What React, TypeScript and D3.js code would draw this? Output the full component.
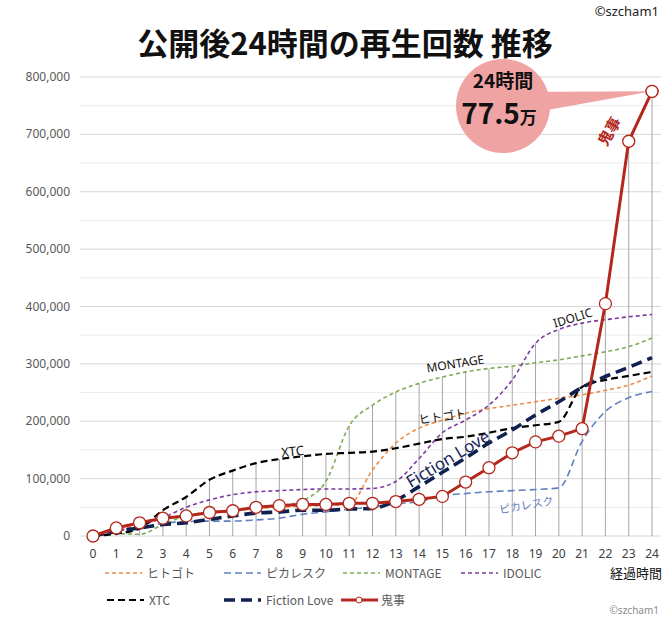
import * as d3 from 'd3';

const hours = d3.range(0, 25);
const yTicks = [0, 100000, 200000, 300000, 400000, 500000, 600000, 700000, 800000];

const hitogoto = [0, 10000, 20000, 30000, 36000, 42000, 45000, 48000, 50000, 52000, 53000, 55000, 115000, 162000, 188000, 202000, 214000, 222000, 228000, 234000, 240000, 246000, 254000, 263000, 279000];
const picaresque = [0, 5000, 12000, 22000, 25000, 26000, 26000, 28000, 31000, 38000, 42000, 47000, 50000, 56000, 60000, 70000, 74000, 77000, 79000, 81000, 84000, 165000, 217000, 241000, 252000];
const montage = [0, 4000, 3000, 20000, 35000, 40000, 44000, 48000, 52000, 62000, 95000, 192000, 228000, 251000, 266000, 277000, 286000, 292000, 296000, 302000, 307000, 314000, 321000, 330000, 345000];
const idolic = [0, 8000, 18000, 32000, 50000, 63000, 72000, 77000, 79000, 81000, 82000, 82000, 83000, 95000, 135000, 180000, 202000, 228000, 272000, 336000, 360000, 371000, 377000, 382000, 386000];
const xtc = [0, 4000, 13000, 45000, 68000, 98000, 114000, 127000, 134000, 139000, 143000, 145000, 147000, 153000, 161000, 169000, 173000, 180000, 188000, 193000, 199000, 260000, 272000, 279000, 286000];
const fictionLove = [0, 8000, 14000, 20000, 23000, 29000, 35000, 40000, 42000, 45000, 45000, 47000, 48000, 62000, 86000, 111000, 136000, 162000, 185000, 211000, 234000, 259000, 278000, 294000, 311000];
const kiji = [0, 14000, 23000, 31000, 35000, 41000, 44000, 50000, 53000, 55000, 55000, 57000, 57000, 60000, 64000, 69000, 94000, 119000, 145000, 164000, 174000, 187000, 405000, 688000, 775000];

const RED = '#b3271c';

// drawing order matters: dashed ones first, 鬼事 on top
const series = [
  { name: 'ヒトゴト', values: hitogoto, color: '#ed8a45', width: 1.6, dash: '4,3' },
  { name: 'ピカレスク', values: picaresque, color: '#5f80c0', width: 1.6, dash: '7,4' },
  { name: 'MONTAGE', values: montage, color: '#7fac55', width: 1.6, dash: '4,3' },
  { name: 'IDOLIC', values: idolic, color: '#7a3aa0', width: 1.6, dash: '4,3' },
  { name: 'XTC', values: xtc, color: '#000000', width: 2.2, dash: '7,4' },
  { name: 'Fiction Love', values: fictionLove, color: '#10204f', width: 3.6, dash: '11,6' },
];

const legendRow1 = [
  { i: 0, x: 105, y: 573 },
  { i: 1, x: 224, y: 573 },
  { i: 2, x: 343, y: 573 },
  { i: 3, x: 461, y: 573 },
];
const legendRow2 = [
  { i: 4, x: 107, y: 600 },
  { i: 5, x: 224, y: 600 },
];

export default function App() {
  const x = d3.scaleLinear().domain([0, 24]).range([93, 652]);
  const y = d3.scaleLinear().domain([0, 800000]).range([536, 77]);

  const smooth = d3.line<number>()
    .x((_, i) => x(hours[i]))
    .y(d => y(d))
    .curve(d3.curveMonotoneX);
  const straight = d3.line<number>()
    .x((_, i) => x(hours[i]))
    .y(d => y(d));

  const all = [...series.map(s => s.values), kiji];
  const maxAt = hours.map(h => d3.max(all, v => v[h]) || 0);
  const grid = d3.range(0, 800001, 50000);

  const tipX = x(24);
  const tipY = y(kiji[24]);
  const font = '"Noto Sans", "Noto Sans CJK JP", sans-serif';
  const cjk = '"Noto Sans CJK JP", "Noto Sans", sans-serif';

  return (
    <svg width={668} height={621} style={{ position: 'absolute', left: 0, top: 0, background: '#fff' }} fontFamily={font}>
      <rect width={668} height={621} fill="#fff" />
      <text x={345} y={55} textAnchor="middle" fontFamily={cjk} fontWeight="bold" fontSize={31} fill="#111">公開後24時間の再生回数 推移</text>
      <text x={659} y={16} textAnchor="end" fontSize={13} fill="#222">©szcham1</text>

      {grid.map(g => (
        <line key={g} x1={80} x2={661} y1={y(g)} y2={y(g)}
          stroke={g % 100000 === 0 ? '#d6d6d6' : '#ececec'} strokeWidth={1} />
      ))}
      {yTicks.map(t => (
        <text key={t} x={70} y={y(t) + 4} textAnchor="end" fontSize={12} fill="#595959">{d3.format(',')(t)}</text>
      ))}
      {hours.map(h => (
        <text key={h} x={x(h)} y={558} textAnchor="middle" fontSize={12} fill="#404040">{h}</text>
      ))}

      {hours.map(h => (
        <line key={h} x1={x(h)} x2={x(h)} y1={y(0)} y2={y(maxAt[h])} stroke="#a6a6a6" strokeWidth={1} />
      ))}

      {series.map(s => (
        <path key={s.name} d={smooth(s.values) || ''} fill="none" stroke={s.color}
          strokeWidth={s.width} strokeDasharray={s.dash} />
      ))}

      <path d={straight(kiji) || ''} fill="none" stroke={RED} strokeWidth={3} />
      {kiji.map((v, i) => (
        <circle key={i} cx={x(hours[i])} cy={y(v)} r={6} fill="#fff" stroke={RED} strokeWidth={1.3} />
      ))}

      {/* callout bubble */}
      <polygon points={`${503},${92} ${503},${118} ${tipX},${tipY}`} fill="#f0a3a3" />
      <circle cx={503} cy={106} r={47} fill="#f0a3a3" />
      <circle cx={tipX} cy={tipY} r={6} fill="#fff" stroke={RED} strokeWidth={1.3} />
      <text x={503} y={88} textAnchor="middle" fontFamily={cjk} fontWeight="bold" fontSize={19} fill="#111">24時間</text>
      <text x={499} y={124} textAnchor="middle" fontFamily={cjk} fontWeight="bold" fill="#111">
        <tspan fontSize={28}>77.5</tspan><tspan fontSize={17}>万</tspan>
      </text>

      {/* inline series labels */}
      <text transform="translate(293,456) rotate(-6)" textAnchor="middle" fontSize={13} fill="#111">XTC</text>
      <text transform="translate(456,368) rotate(-9)" textAnchor="middle" fontSize={12} fill="#111">MONTAGE</text>
      <text transform="translate(443,421) rotate(-8)" textAnchor="middle" fontFamily={cjk} fontSize={12} fill="#111">ヒトゴト</text>
      <text transform="translate(574,322) rotate(-17)" textAnchor="middle" fontSize={12} fill="#111">IDOLIC</text>
      <text transform="translate(451,464) rotate(-31)" textAnchor="middle" fontSize={17} fill="#1b2a5c">Fiction Love</text>
      <text transform="translate(527,509) rotate(-10)" textAnchor="middle" fontFamily={cjk} fontSize={11} fill="#5f80c0">ピカレスク</text>
      <text transform="translate(614,134) rotate(-60)" textAnchor="middle" fontFamily={cjk} fontWeight="bold" fontSize={15} fill={RED}>鬼事</text>

      {/* legend */}
      {[...legendRow1, ...legendRow2].map(l => {
        const s = series[l.i];
        return (
          <g key={s.name}>
            <line x1={l.x} x2={l.x + 37} y1={l.y} y2={l.y} stroke={s.color} strokeWidth={s.width} strokeDasharray={s.dash} />
            <text x={l.x + 42} y={l.y + 4.5} fontFamily={cjk} fontSize={12} fill="#595959">{s.name}</text>
          </g>
        );
      })}
      <line x1={341} x2={378} y1={600} y2={600} stroke={RED} strokeWidth={3} />
      <circle cx={359} cy={600} r={3} fill="#fff" stroke={RED} strokeWidth={1} />
      <text x={381} y={604.5} fontFamily={cjk} fontSize={12} fill="#595959">鬼事</text>

      <text x={662} y={578} textAnchor="end" fontFamily={cjk} fontSize={13} fill="#111">経過時間</text>
      <text x={659} y={614} textAnchor="end" fontSize={10} fill="#8c8c8c">©szcham1</text>
    </svg>
  );
}
